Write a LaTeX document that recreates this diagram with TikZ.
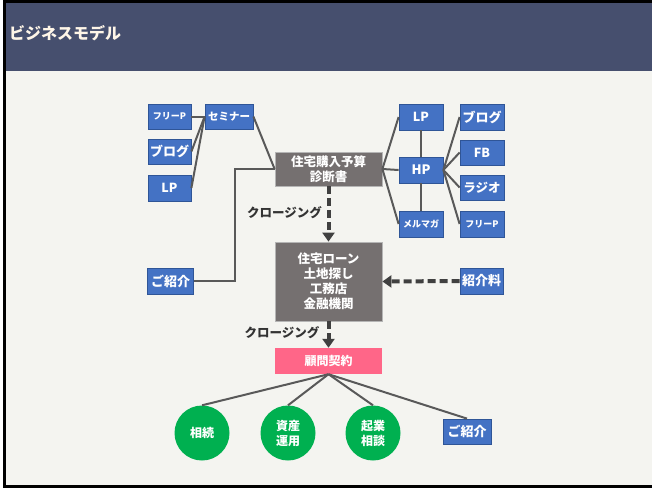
\documentclass[tikz,border=0pt]{standalone}
\usepackage{fontspec}
\setmainfont{Noto Sans CJK JP}
\usetikzlibrary{arrows.meta}
\definecolor{titlebg}{HTML}{464F6E}
\definecolor{titlefg}{HTML}{FFF6E8}
\definecolor{pagebg}{HTML}{F4F4F0}
\definecolor{boxblue}{HTML}{4472C4}
\definecolor{boxblueline}{HTML}{2F5597}
\definecolor{boxgray}{HTML}{757070}
\definecolor{boxgrayline}{HTML}{B5B5B5}
\definecolor{boxpink}{HTML}{FF6688}
\definecolor{circgreen}{HTML}{00B050}
\definecolor{linegray}{HTML}{595959}
\definecolor{arrowgray}{HTML}{404040}
\definecolor{labelgray}{HTML}{333333}
\tikzset{
  bluebox/.style={draw=boxblueline, line width=0.8pt, fill=boxblue, text=white, font=\bfseries, inner sep=0pt, align=center},
  graybox/.style={draw=boxgrayline, line width=0.8pt, fill=boxgray, text=white, font=\bfseries\fontsize{12.5}{15}\selectfont, inner sep=0pt, align=center},
  pinkbox/.style={fill=boxpink, text=white, font=\bfseries\fontsize{12}{14}\selectfont, inner sep=0pt, align=center},
  greencirc/.style={circle, fill=circgreen, text=white, font=\bfseries\fontsize{12}{15}\selectfont, inner sep=0pt, minimum size=55pt, align=center},
  conn/.style={draw=linegray, line width=2pt},
  dasharrow/.style={draw=arrowgray, line width=4pt, dash pattern=on 8pt off 4pt, -{Triangle[width=12pt,length=9pt]}},
  closelabel/.style={text=labelgray, font=\bfseries\fontsize{12.5}{14}\selectfont, inner sep=0pt}
}
\begin{document}
\begin{tikzpicture}[x=1pt,y=-1pt]
\useasboundingbox (0,0) rectangle (652,491);
\fill[white] (0,0) rectangle (652,491);
\fill[pagebg] (5,2) rectangle (652,486);
\fill[titlebg] (5,3) rectangle (652,71);
\draw[black, line width=3pt] (4.5,0) -- (4.5,488);
\draw[black, line width=3pt] (3,1.5) -- (652,1.5);
\draw[black, line width=3pt] (3,486.5) -- (652,486.5);
\node[anchor=west, text=titlefg, font=\bfseries\fontsize{16}{20}\selectfont, inner sep=0pt] (title) at (9,33) {ビジネスモデル};

% left group
\node[bluebox, minimum width=43pt, minimum height=25pt, font=\bfseries\fontsize{9}{10}\selectfont] (fp1) at (169.5,116.5) {フリーP};
\node[bluebox, minimum width=48pt, minimum height=25pt, font=\bfseries\fontsize{10.5}{12}\selectfont] (sem) at (229,116.5) {セミナー};
\node[bluebox, minimum width=43pt, minimum height=25pt, font=\bfseries\fontsize{13}{14}\selectfont] (blog1) at (169.5,151.5) {ブログ};
\node[bluebox, minimum width=43pt, minimum height=26pt, font=\bfseries\fontsize{12.5}{14}\selectfont] (lp1) at (169.5,188) {LP};
\node[bluebox, minimum width=46pt, minimum height=26pt, font=\bfseries\fontsize{13}{14}\selectfont] (intro1) at (170.5,281) {ご紹介};

% center
\node[graybox, minimum width=107pt, minimum height=34pt] (diag) at (328.5,169) {住宅購入予算\\診断書};
\node[graybox, minimum width=107pt, minimum height=79pt] (loan) at (328.5,281.5) {住宅ローン\\土地探し\\工務店\\金融機関};
\node[pinkbox, minimum width=107pt, minimum height=26pt] (adv) at (328.5,361) {顧問契約};

% right group
\node[bluebox, minimum width=44pt, minimum height=26pt, font=\bfseries\fontsize{12.5}{14}\selectfont] (lp2) at (421,117) {LP};
\node[bluebox, minimum width=44pt, minimum height=26pt, font=\bfseries\fontsize{13}{14}\selectfont] (hp) at (421,170) {HP};
\node[bluebox, minimum width=44pt, minimum height=26pt, font=\bfseries\fontsize{9}{10}\selectfont] (mel) at (421,224) {メルマガ};
\node[bluebox, minimum width=44pt, minimum height=26pt, font=\bfseries\fontsize{13}{14}\selectfont] (blog2) at (482,117) {ブログ};
\node[bluebox, minimum width=44pt, minimum height=25pt, font=\bfseries\fontsize{12.5}{14}\selectfont] (fb) at (482,152.5) {FB};
\node[bluebox, minimum width=44pt, minimum height=25pt, font=\bfseries\fontsize{12.5}{14}\selectfont] (radio) at (482,187.5) {ラジオ};
\node[bluebox, minimum width=44pt, minimum height=26pt, font=\bfseries\fontsize{9}{10}\selectfont] (fp2) at (482,224) {フリーP};
\node[bluebox, minimum width=43pt, minimum height=26pt, font=\bfseries\fontsize{13}{14}\selectfont] (fee) at (481.5,281) {紹介料};

% bottom
\node[greencirc] (c1) at (202,433) {相続};
\node[greencirc] (c2) at (288,433) {資産\\運用};
\node[greencirc] (c3) at (373,433) {起業\\相談};
\node[bluebox, minimum width=48pt, minimum height=25pt, font=\bfseries\fontsize{13}{14}\selectfont] (intro2) at (467,431.5) {ご紹介};

% labels
\node[closelabel] (cl1) at (284.5,212.5) {クロージング};
\node[closelabel] (cl2) at (282,333) {クロージング};

\coordinate (corner) at (235,169);

\draw[conn] (fp1.east) -- (sem.west);
\draw[conn] (blog1.east) -- (sem.west);
\draw[conn] (lp1.east) -- (sem.west);
\draw[conn] (sem.east) -- (diag.west);
\draw[conn] (intro1.east) -| (corner) -- (diag.west);
\draw[conn] (diag.east) -- (lp2.west);
\draw[conn] (diag.east) -- (hp.west);
\draw[conn] (diag.east) -- (mel.west);
\draw[conn] (lp2.south) -- (hp.north);
\draw[conn] (hp.south) -- (mel.north);
\draw[conn] (hp.east) -- (blog2.west);
\draw[conn] (hp.east) -- (fb.west);
\draw[conn] (hp.east) -- (radio.west);
\draw[conn] (hp.east) -- (fp2.west);
\draw[conn] (adv.south) -- (c1.north);
\draw[conn] (adv.south) -- (c2.north);
\draw[conn] (adv.south) -- (c3.north);
\draw[conn] (adv.south) -- (intro2.north);

\draw[dasharrow] (diag.south) -- (loan.north);
\draw[dasharrow] (fee.west) -- (loan.east);
\draw[dasharrow] (loan.south) -- (adv.north);
\end{tikzpicture}
\end{document}
